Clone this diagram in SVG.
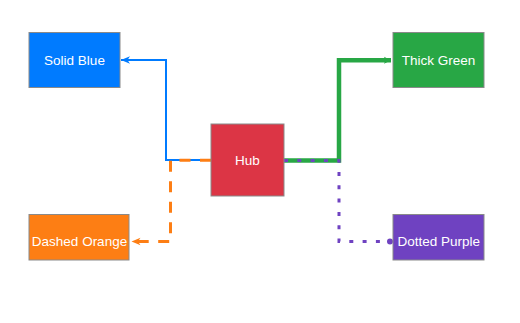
<svg xmlns="http://www.w3.org/2000/svg" width="520" height="323" viewBox="0 0 520 323">
<style>
.box{stroke:#8a8a8a;stroke-width:1}
.lbl{font-family:"Liberation Sans",Arial,sans-serif;font-size:13.5px;fill:#ffffff;text-anchor:middle}
.edge{fill:none;stroke-linejoin:miter}
</style>
<defs>
<marker id="arrBlue" markerUnits="userSpaceOnUse" markerWidth="12" markerHeight="10" refX="9" refY="4" orient="auto" overflow="visible">
<path d="M0,0.3 L9,4 L0,7.7 L2.5,4 z" fill="#007bff"/>
</marker>
<marker id="arrOrange" markerUnits="userSpaceOnUse" markerWidth="12" markerHeight="10" refX="9" refY="4" orient="auto" overflow="visible">
<path d="M0,0.3 L9,4 L0,7.7 L2.5,4 z" fill="#fd7e14"/>
</marker>
<marker id="arrGreen" markerUnits="userSpaceOnUse" markerWidth="10" markerHeight="10" refX="7" refY="3.5" orient="auto" overflow="visible">
<path d="M0,0 L7,3.5 L0,7 L1.5,3.5 z" fill="#28a745"/>
</marker>
<marker id="dotPurple" markerUnits="userSpaceOnUse" markerWidth="8" markerHeight="8" refX="3" refY="3" orient="auto" overflow="visible">
<circle cx="3" cy="3" r="3" fill="#6f42c1"/>
</marker>
</defs>
<g id="connectors">
<path id="e-blue" class="edge" d="M211,160 L166,160 L166,60 L121,60" stroke="#007bff" stroke-width="2" marker-end="url(#arrBlue)"/>
<path id="e-orange" class="edge" d="M211,160.3 L170.5,160.3 L170.5,241.5 L131.5,241.5" stroke="#fd7e14" stroke-width="3" stroke-dasharray="11,9.5" marker-end="url(#arrOrange)"/>
<path id="e-green" class="edge" d="M284,160.5 L339,160.5 L339,60.3 L391,60.3" stroke="#28a745" stroke-width="4.5" marker-end="url(#arrGreen)"/>
<path id="e-purple" class="edge" d="M284,160.5 L339,160.5 L339,241.5 L390,241.5" stroke="#6f42c1" stroke-width="3" stroke-dasharray="4,9.3" marker-end="url(#dotPurple)"/>
</g>
<g id="node-hub">
<rect class="box" x="211" y="124" width="73" height="72" fill="#dc3545" stroke="#9aa8ad"/>
<text class="lbl" x="247.5" y="164.5">Hub</text>
</g>
<g id="node-blue">
<rect class="box" x="29" y="32.5" width="91" height="55" fill="#007bff"/>
<text class="lbl" x="74.5" y="64.5">Solid Blue</text>
</g>
<g id="node-green">
<rect class="box" x="393" y="32.5" width="91" height="55" fill="#28a745"/>
<text class="lbl" x="438.5" y="64.5">Thick Green</text>
</g>
<g id="node-orange">
<rect class="box" x="29" y="214.5" width="100" height="45.5" fill="#fd7e14"/>
<text class="lbl" x="79.5" y="246.3">Dashed Orange</text>
</g>
<g id="node-purple">
<rect class="box" x="393" y="214.5" width="91" height="45.5" fill="#6f42c1"/>
<text class="lbl" x="438.8" y="246.3">Dotted Purple</text>
</g>
</svg>
